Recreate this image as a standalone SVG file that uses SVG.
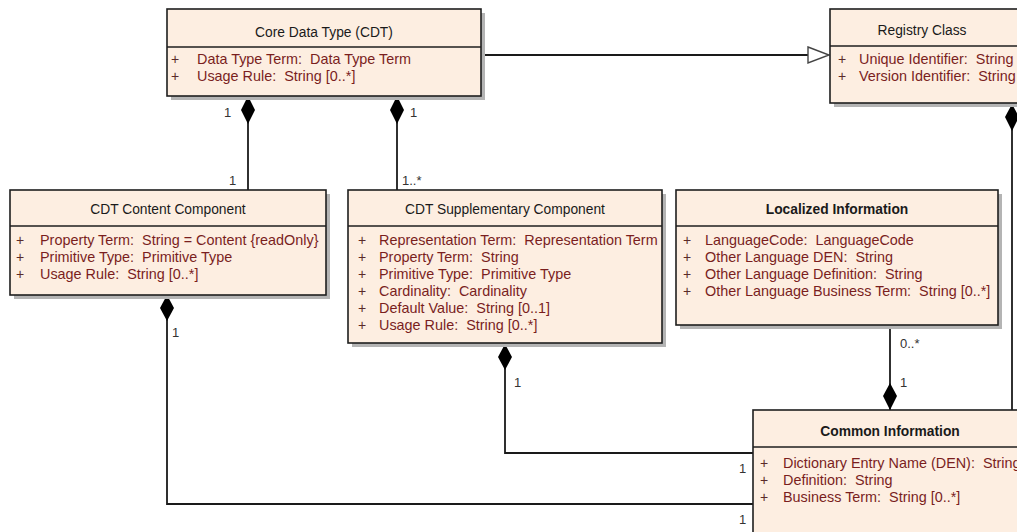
<svg xmlns="http://www.w3.org/2000/svg" width="1017" height="532" viewBox="0 0 1017 532">
  <style>
    text { white-space: pre; }
    .box { fill: #fdeee1; stroke: #1e1e1e; stroke-width: 1.6; }
    .shadow { fill: #b4b4b4; }
    .div { stroke: #1e1e1e; stroke-width: 1.4; }
    .title { font-family: "Liberation Sans", Arial, sans-serif; font-size: 13.8px; fill: #1a1a1a; text-anchor: middle; }
    .bold { font-weight: bold; }
    .vis { font-family: "Liberation Sans", Arial, sans-serif; font-size: 14px; fill: #5a2a2a; }
    .attr { font-family: "Liberation Sans", Arial, sans-serif; font-size: 14.4px; fill: #7a1e1e; }
    .mult { font-family: "Liberation Sans", Arial, sans-serif; font-size: 13px; fill: #333; }
    .line { fill: none; stroke: #1a1a1a; stroke-width: 1.8; }
    .diamond { fill: #000; stroke: none; }
  </style>
  <rect width="1017" height="532" fill="#ffffff"/>

  <!-- associations and generalization -->
  <g id="connectors">
    <!-- generalization CDT -> Registry Class -->
    <path class="line" d="M481 55 H808"/>
    <polygon points="808,47 829,55 808,63" fill="#fff" stroke="#444" stroke-width="1.4"/>
    <!-- CDT composes Content Component -->
    <path class="line" d="M248 96 V190"/>
    <polygon class="diamond" points="248,96 255,110 248,124 241,110"/>
    <!-- CDT composes Supplementary Component -->
    <path class="line" d="M397 96 V190"/>
    <polygon class="diamond" points="397,96 404,110 397,124 390,110"/>
    <!-- Content Component composes Common Information -->
    <path class="line" d="M167 295 V504 H753"/>
    <polygon class="diamond" points="167,295 174,308 167,321 160,308"/>
    <!-- Supplementary Component composes Common Information -->
    <path class="line" d="M505 343 V453 H753"/>
    <polygon class="diamond" points="505,344 512,357 505,370 498,357"/>
    <!-- Common Information composes Localized Information -->
    <path class="line" d="M890 325 V410"/>
    <polygon class="diamond" points="890,383 897,396 890,410 883,396"/>
    <!-- Registry Class composes Common Information -->
    <path class="line" d="M1012 103 V410"/>
    <polygon class="diamond" points="1012,104 1019,117 1012,131 1005,117"/>

    <!-- multiplicities -->
    <text class="mult" x="224" y="117">1</text>
    <text class="mult" x="229" y="185">1</text>
    <text class="mult" x="410" y="117">1</text>
    <text class="mult" x="402" y="185">1..*</text>
    <text class="mult" x="172" y="337">1</text>
    <text class="mult" x="739" y="524">1</text>
    <text class="mult" x="514" y="387">1</text>
    <text class="mult" x="739" y="473">1</text>
    <text class="mult" x="900" y="348">0..*</text>
    <text class="mult" x="900" y="387">1</text>
  </g>

  <g id="core-data-type">
    <rect class="shadow" x="171" y="13" width="314" height="87"/>
    <rect class="box" x="167" y="9" width="314" height="87"/>
    <line class="div" x1="167" y1="47" x2="481" y2="47"/>
    <text class="title" x="324" y="37">Core Data Type (CDT)</text>
    <text class="vis" x="171" y="64">+</text>
    <text class="attr" x="197" y="64">Data Type Term:  Data Type Term</text>
    <text class="vis" x="171" y="81">+</text>
    <text class="attr" x="197" y="81">Usage Rule:  String [0..*]</text>
  </g>

  <g id="registry-class">
    <rect class="shadow" x="834" y="13" width="200" height="94"/>
    <rect class="box" x="830" y="9" width="200" height="94"/>
    <line class="div" x1="830" y1="46" x2="1030" y2="46"/>
    <text class="title" x="922" y="35">Registry Class</text>
    <text class="vis" x="838" y="64">+</text>
    <text class="attr" x="859" y="64">Unique Identifier:  String</text>
    <text class="vis" x="838" y="81">+</text>
    <text class="attr" x="859" y="81">Version Identifier:  String</text>
  </g>

  <g id="cdt-content-component">
    <rect class="shadow" x="14" y="194" width="316" height="105"/>
    <rect class="box" x="10" y="190" width="316" height="105"/>
    <line class="div" x1="10" y1="226" x2="326" y2="226"/>
    <text class="title" x="168" y="214">CDT Content Component</text>
    <text class="vis" x="16" y="245">+</text>
    <text class="attr" x="40" y="245">Property Term:  String = Content {readOnly}</text>
    <text class="vis" x="16" y="262">+</text>
    <text class="attr" x="40" y="262">Primitive Type:  Primitive Type</text>
    <text class="vis" x="16" y="279">+</text>
    <text class="attr" x="40" y="279">Usage Rule:  String [0..*]</text>
  </g>

  <g id="cdt-supplementary-component">
    <rect class="shadow" x="352" y="194" width="314" height="153"/>
    <rect class="box" x="348" y="190" width="314" height="153"/>
    <line class="div" x1="348" y1="226" x2="662" y2="226"/>
    <text class="title" x="505" y="214">CDT Supplementary Component</text>
    <text class="vis" x="358" y="245">+</text>
    <text class="attr" x="379" y="245">Representation Term:  Representation Term</text>
    <text class="vis" x="358" y="262">+</text>
    <text class="attr" x="379" y="262">Property Term:  String</text>
    <text class="vis" x="358" y="279">+</text>
    <text class="attr" x="379" y="279">Primitive Type:  Primitive Type</text>
    <text class="vis" x="358" y="296">+</text>
    <text class="attr" x="379" y="296">Cardinality:  Cardinality</text>
    <text class="vis" x="358" y="313">+</text>
    <text class="attr" x="379" y="313">Default Value:  String [0..1]</text>
    <text class="vis" x="358" y="330">+</text>
    <text class="attr" x="379" y="330">Usage Rule:  String [0..*]</text>
  </g>

  <g id="localized-information">
    <rect class="shadow" x="680" y="194" width="322" height="135"/>
    <rect class="box" x="676" y="190" width="322" height="135"/>
    <line class="div" x1="676" y1="226" x2="998" y2="226"/>
    <text class="title bold" x="837" y="214">Localized Information</text>
    <text class="vis" x="683" y="245">+</text>
    <text class="attr" x="705" y="245">LanguageCode:  LanguageCode</text>
    <text class="vis" x="683" y="262">+</text>
    <text class="attr" x="705" y="262">Other Language DEN:  String</text>
    <text class="vis" x="683" y="279">+</text>
    <text class="attr" x="705" y="279">Other Language Definition:  String</text>
    <text class="vis" x="683" y="296">+</text>
    <text class="attr" x="705" y="296">Other Language Business Term:  String [0..*]</text>
  </g>

  <g id="common-information">
    <rect class="box" x="753" y="410" width="280" height="125"/>
    <line class="div" x1="753" y1="447" x2="1033" y2="447"/>
    <text class="title bold" x="890" y="436">Common Information</text>
    <text class="vis" x="760" y="468">+</text>
    <text class="attr" x="783" y="468">Dictionary Entry Name (DEN):  String</text>
    <text class="vis" x="760" y="485">+</text>
    <text class="attr" x="783" y="485">Definition:  String</text>
    <text class="vis" x="760" y="502">+</text>
    <text class="attr" x="783" y="502">Business Term:  String [0..*]</text>
  </g>
</svg>
